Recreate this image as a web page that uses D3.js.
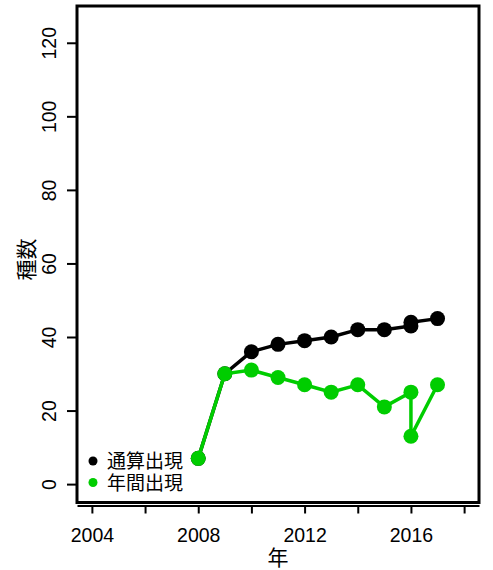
<!DOCTYPE html>
<html><head><meta charset="utf-8">
<script src="https://cdn.jsdelivr.net/npm/d3@7/dist/d3.min.js"></script>
<style>body{margin:0;background:#fff}svg{display:block}text{font-family:"Liberation Sans",Arial,sans-serif}</style>
</head><body><svg id="c" width="493" height="570"></svg>
<script>
const years = [2008, 2009, 2010, 2011, 2012, 2013, 2014, 2015, 2016, 2016, 2017];
const cumulative = [7, 30, 36, 38, 39, 40, 42, 42, 43, 44, 45];
const annual = [7, 30, 31, 29, 27, 25, 27, 21, 25, 13, 27];
const seriesNames = ["通算出現", "年間出現"];
const seriesColors = ["#000000", "#00CD00"];
const xTicks = [2004, 2006, 2008, 2010, 2012, 2014, 2016, 2018];
const xTickLabels = ["2004", "", "2008", "", "2012", "", "2016", ""];
const yTicks = [0, 20, 40, 60, 80, 100, 120];
const xTitle = "年", yTitle = "種数";

const svg = d3.select("#c");
const L = 77, R = 479, T = 6, B = 502.5;
const x = d3.scaleLinear().domain([2003.44, 2018.56]).range([L, R]);
const y = d3.scaleLinear().domain([-5, 130]).range([B, T]);
const CJK = '"Noto Sans CJK JP","Liberation Sans",sans-serif';
const LAT = '"Liberation Sans",Arial,sans-serif';

// box
svg.append("rect").attr("x", L).attr("y", T).attr("width", R - L).attr("height", B - T)
  .attr("fill", "none").attr("stroke", "#000").attr("stroke-width", 3);

// x axis
const xa = svg.append("g").attr("transform", `translate(0,${B + 3})`)
  .call(d3.axisBottom(x).tickValues(xTicks).tickFormat((d, i) => xTickLabels[i]).tickSize(8).tickSizeOuter(0));
xa.select(".domain").attr("stroke-width", 2);
xa.selectAll(".tick line").attr("stroke-width", 2);
xa.selectAll(".tick text").attr("font-size", 19.5).attr("dy", "0").attr("y", 36.5).attr("fill", "#000")
  .style("font-family", LAT);

// y axis
const ya = svg.append("g").attr("transform", `translate(${L},0)`)
  .call(d3.axisLeft(y).tickValues(yTicks).tickSize(10).tickSizeOuter(0));
ya.select(".domain").remove();
ya.selectAll(".tick line").attr("stroke-width", 2);
ya.selectAll(".tick text").attr("font-size", 19.5).attr("fill", "#000")
  .attr("x", 0).attr("dy", 0).attr("text-anchor", "middle")
  .attr("transform", "translate(-21,0) rotate(-90)")
  .style("font-family", LAT);

// titles
svg.append("text").attr("x", x(2011)).attr("y", 565).attr("text-anchor", "middle")
  .attr("font-size", 21).style("font-family", CJK).text(xTitle);
svg.append("text").attr("transform", `translate(34,${y(60) - 4}) rotate(-90)`).attr("text-anchor", "middle")
  .attr("font-size", 21).style("font-family", CJK).text(yTitle);

// series
const line = d3.line().x(d => x(d[0])).y(d => y(d[1]));
[cumulative, annual].forEach((vals, si) => {
  const pts = years.map((yr, i) => [yr, vals[i]]);
  svg.append("path").datum(pts).attr("d", line).attr("fill", "none")
    .attr("stroke", seriesColors[si]).attr("stroke-width", 3.5);
  svg.selectAll(null).data(pts).enter().append("circle")
    .attr("cx", d => x(d[0])).attr("cy", d => y(d[1])).attr("r", 7.5)
    .attr("fill", seriesColors[si]);
});

// legend
seriesNames.forEach((n, i) => {
  const yy = 461 + i * 21.5;
  svg.append("circle").attr("cx", 93).attr("cy", yy).attr("r", 4.5).attr("fill", seriesColors[i]);
  svg.append("text").attr("x", 107).attr("y", yy + 7).attr("font-size", 19)
    .style("font-family", CJK).text(n);
});
</script></body></html>
